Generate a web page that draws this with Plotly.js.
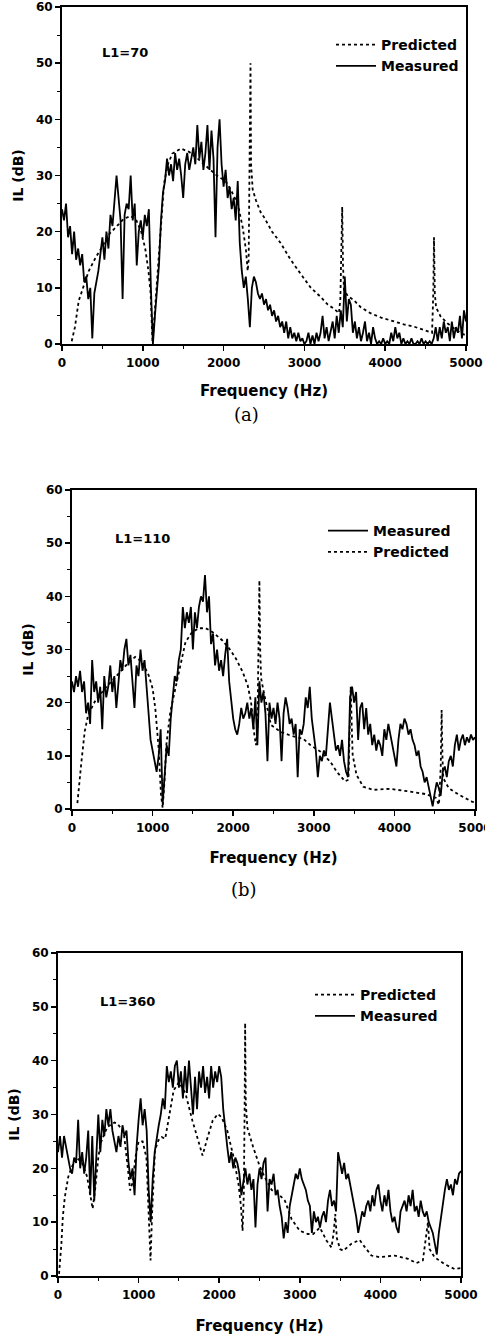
<!DOCTYPE html>
<html>
<head>
<meta charset="utf-8">
<script src="https://cdn.plot.ly/plotly-3.0.1.min.js"></script>
<style>html,body{margin:0;padding:0;background:#fff;}#chart{width:485px;height:1335px;}</style>
</head>
<body>
<div id="chart"></div>
<script>
// Shared frequency grid (Hz) for the measured curves
const freq = [
0,25,50,75,100,125,150,175,200,225,250,275,300,325,350,375,400,425,450,475,
500,525,550,575,600,625,650,675,700,725,750,775,800,825,850,875,900,925,950,975,
1000,1025,1050,1075,1100,1125,1150,1175,1200,1225,1250,1275,1300,1325,1350,1375,1400,1425,1450,1475,
1500,1525,1550,1575,1600,1625,1650,1675,1700,1725,1750,1775,1800,1825,1850,1875,1900,1925,1950,1975,
2000,2025,2050,2075,2100,2125,2150,2175,2200,2225,2250,2275,2300,2325,2350,2375,2400,2425,2450,2475,
2500,2525,2550,2575,2600,2625,2650,2675,2700,2725,2750,2775,2800,2825,2850,2875,2900,2925,2950,2975,
3000,3025,3050,3075,3100,3125,3150,3175,3200,3225,3250,3275,3300,3325,3350,3375,3400,3425,3450,3475,
3500,3525,3550,3575,3600,3625,3650,3675,3700,3725,3750,3775,3800,3825,3850,3875,3900,3925,3950,3975,
4000,4025,4050,4075,4100,4125,4150,4175,4200,4225,4250,4275,4300,4325,4350,4375,4400,4425,4450,4475,
4500,4525,4550,4575,4600,4625,4650,4675,4700,4725,4750,4775,4800,4825,4850,4875,4900,4925,4950,4975,
5000];

// (a) L1=70
const measuredA = [
24,22,25,19,21,16,20,15,17,14,16,11,12,8,10,1,9,11,13,16,
19,15,20,17,23,21,25,30,26,22,8,23,25,24,30,22,25,14,20,22,
19,23,21,24,10,0,5,9,14,22,27,29,33,30,32,29,34,31,33,30,
26,32,34,31,33,35,32,39,33,36,31,34,39,31,38,33,19,35,40,32,
28,31,26,28,24,26,22,29,18,13,10,12,8,3,10,12,11,9,8,9,
7,8,6,7,5,6,4,5,3,4,2,4,1,3,1,2,0.5,2,0.5,1,
0,0.5,2,0,1.5,0,2,0.5,2,5,1,3,0.5,2,4,1,5,2,6,3,
12,4,8,7,2,4,1,3,0.5,2,4,0.5,2,0,3,1,0,0.5,0,1,
0,0.5,0,2,0.5,3,1,2,0,1,0,0.5,0,1,0,0,0.5,0,1,0,
0.5,0,0.5,0,1,3,0.5,3,1,4,2,3,0.5,4,1,3,2,5,1,6,
4];
const predAf = [120,160,207,260,331,420,497,580,662,766,850,920,980,1030,1070,1097,1110,1120,1135,1160,1190,1221,1263,1310,1366,1470,1573,1680,1800,1900,2029,2091,2174,2236,2277,2298,2310,2322,2333,2340,2360,2400,2457,2504,2600,2705,2830,2953,3080,3200,3290,3365,3427,3445,3460,3468,3478,3490,3540,3612,3700,3817,3950,4107,4230,4355,4460,4541,4580,4595,4604,4614,4630,4686,4769,4850,4930,5000];
const predAv = [0.5,3,7.7,10,13,15.5,17.3,19.5,20.8,22.3,22.8,22,20,17,13,9,4,0.5,3,8,14,20.8,28.6,32,33.9,34.8,34.2,33,31.5,30.2,28.9,27.4,25,20.8,16.7,13,15,30,50,32,27.5,25.6,23.5,22.5,20,18,15,12.5,10,8.4,7,6.3,5.5,8,20,24.4,14,9.6,8.5,7.8,6.5,5.5,4.7,4.0,3.5,3.1,2.6,2.2,2,9,19,9,6.5,4.9,3.7,2.8,2,1.5];

// (b) L1=110
const measuredB = [
24,22,25,23,26,22,24,18,20,16,28,22,24,20,23,15,25,21,23,27,
22,25,19,24,28,26,30,32,27,29,24,19,27,25,30,26,28,22,18,13,
11,9,7,10,15,1,6,12,10,17,21,25,24,28,30,38,34,37,35,38,
30,37,34,38,40,39,44,37,40,31,33,27,30,26,28,25,29,32,24,20,
17,15,14,16,19,17,18,20,17,19,15,21,12,24,20,22,18,9,20,17,
19,16,20,17,9,18,21,19,16,17,14,16,6,15,14,16,21,19,23,17,
14,11,6,10,9,11,10,16,20,17,14,11,12,10,13,9,7,6,21,23,
20,22,13,19,20,15,19,14,16,12,14,11,13,12,10,15,13,16,14,12,
10,8,13,16,15,17,16,14,15,13,12,10,11,8,7,5,6,4,2,0.5,
3,5,4,2.5,7,8,6,9,10,8,12,14,11,13,14,12,13.5,12.5,14,13,
13.5];
const predBf = [67,90,117,158,200,283,400,550,700,783,867,950,1000,1033,1075,1104,1125,1150,1170,1220,1283,1346,1408,1491,1575,1658,1742,1866,1950,2033,2117,2179,2221,2263,2283,2300,2315,2325,2335,2346,2387,2469,2591,2714,2870,2960,3082,3204,3286,3388,3430,3445,3458,3470,3482,3530,3613,3736,3940,4185,4390,4512,4553,4575,4586,4596,4606,4675,4798,4962,5000];
const predBv = [1.1,5,8.9,14.6,17.7,20.2,22.5,25,27.5,28.6,27.7,25.2,22.7,19,11.4,2.7,0.2,5.8,12,18.3,22.7,27.7,31.4,33.3,34,34,33.3,31.7,30.2,28.3,25.8,23.3,20.2,13.9,12,15,30,43,30,24.6,21.4,15.8,14.5,13.8,13.2,12,10.8,8.9,7,5.2,5.5,14,23,16,10.2,6.4,4.2,3.6,3.8,3.3,2.8,2.1,0.8,8,18.6,10,5.8,3.9,2.7,1.4,1.2];

// (c) L1=360
const measuredC = [
23,26,22,26,24,22,20,19,22,21,29,20,23,19,22,27,15,26,14,22,
30,23,29,26,31,28,31,27,25,23,26,24,28,26,27,21,18,20,15,24,
29,33,28,31,27,16,10,18,23,26,28,30,33,31,39,36,38,35,39,40,
35,38,33,39,34,40,35,30,37,31,38,35,39,34,37,33,39,35,38,36,
39,37,31,27,24,21,23,20,22,21,19,15,18,20,17,19,16,18,9,17,
20,18,21,22,12,18,17,19,15,16,13,11,7,10,8,13,15,17,19,18,
20,18,17,16,14,13,8,12,10,11,9,11,12,10,14,16,13,14,12,23,
21,19,21,18,19,17,15,13,11,8,10,12,11,13,14,12,15,13,16,17,
14,12,15,13,16,12,10,11,9,8,12,13,14,12,15,13,16,12,13,11,
14,12,11,12,10,9,8,6,4,8,11,13,16,18,16,17,15,18,17,19,
19.5];
const predCf = [13,30,42,60,84,127,169,230,300,360,400,430,460,500,527,612,700,738,800,823,865,895,928,960,1000,1050,1097,1127,1148,1169,1203,1245,1287,1330,1393,1435,1500,1580,1667,1751,1793,1857,1920,1983,2030,2100,2180,2240,2270,2290,2305,2315,2322,2330,2350,2420,2500,2560,2650,2750,2815,2900,3000,3100,3166,3249,3331,3393,3420,3440,3460,3500,3540,3640,3742,3800,3888,3990,4177,4342,4446,4527,4568,4590,4610,4672,4796,4920,5000];
const predCv = [0.4,3,6,11,14.6,18.4,20.2,22,21,18.5,15,12.5,16,22,24.6,27.7,28.5,28.3,27,25.8,20.2,15.9,17.5,22,25,25,22,12.2,2.9,12.2,23.3,25.2,25.8,25.5,30.8,34.5,36,34,28.9,24.6,22.4,25.8,28.9,30.1,29.5,27,22,17,13,8.4,15,30,47,32,27.5,24,20.5,18.5,16,15,14,10.5,8.4,7.8,7.8,9,6.6,5.3,8,11.5,7,5,4.7,6,6.7,5.5,3.8,3.5,3.8,3.2,2.4,2.9,7,10,5,3.5,2.2,1.3,1.5];

// Tick values and labels
const xTickVals = [0,1000,2000,3000,4000,5000];
const yTickVals = [0,10,20,30,40,50,60];
const panelLabels = ['(a)','(b)','(c)'];
const caseLabels = ['L1=70','L1=110','L1=360'];

const W = 485, H = 1335;
const px = v => v / W;
const py = v => 1 - v / H;
const bold = (size) => ({family:'DejaVu Sans', size:size, weight:'bold', color:'#000'});

function xAxis(l, r, anchor, standoff) {
  return {
    domain:[px(l), px(r)], anchor:anchor, range:[0,5000],
    tickvals:xTickVals, ticks:'outside', ticklen:5, tickwidth:1.5, tickcolor:'#000',
    minor:{ticks:'outside', dtick:500, ticklen:3, tickwidth:1, tickcolor:'#000'},
    showline:true, linewidth:2, linecolor:'#000', mirror:true,
    showgrid:false, zeroline:false, tickfont:bold(12), ticklabelstandoff:2,
    ticklabeloverflow:'allow',
    title:{text:'Frequency (Hz)', font:bold(15), standoff:standoff}
  };
}
function yAxis(b, t, anchor) {
  return {
    domain:[py(b), py(t)], anchor:anchor, range:[0,60],
    tickvals:yTickVals, ticks:'outside', ticklen:5, tickwidth:1.5, tickcolor:'#000',
    minor:{ticks:'outside', dtick:5, ticklen:3, tickwidth:1, tickcolor:'#000'},
    showline:true, linewidth:2, linecolor:'#000', mirror:true,
    showgrid:false, zeroline:false, tickfont:bold(12),
    ticklabeloverflow:'allow',
    title:{text:'IL (dB)', font:bold(14)}
  };
}

const measStyle = {color:'#000', width:1.8};
const predStyle = {color:'#000', width:1.8, dash:'dot'};

const traces = [
  {x:predAf, y:predAv, name:'Predicted', mode:'lines', line:predStyle, xaxis:'x', yaxis:'y', legend:'legend'},
  {x:freq, y:measuredA, name:'Measured', mode:'lines', line:measStyle, xaxis:'x', yaxis:'y', legend:'legend'},
  {x:freq, y:measuredB, name:'Measured', mode:'lines', line:measStyle, xaxis:'x2', yaxis:'y2', legend:'legend2'},
  {x:predBf, y:predBv, name:'Predicted', mode:'lines', line:predStyle, xaxis:'x2', yaxis:'y2', legend:'legend2'},
  {x:predCf, y:predCv, name:'Predicted', mode:'lines', line:predStyle, xaxis:'x3', yaxis:'y3', legend:'legend3'},
  {x:freq, y:measuredC, name:'Measured', mode:'lines', line:measStyle, xaxis:'x3', yaxis:'y3', legend:'legend3'}
];

function legendAt(x, y) {
  return {x:px(x), y:py(y), xanchor:'left', yanchor:'top', bgcolor:'rgba(0,0,0,0)',
    font:bold(14), traceorder:'normal', itemwidth:40, tracegroupgap:0};
}

const layout = {
  width:W, height:H, margin:{l:0, r:0, t:0, b:0},
  paper_bgcolor:'#fff', plot_bgcolor:'#fff', showlegend:true,
  xaxis: xAxis(62, 466, 'y', 16),
  yaxis: yAxis(344, 7, 'x'),
  xaxis2: xAxis(72, 475, 'y2', 18),
  yaxis2: yAxis(809, 490, 'x2'),
  xaxis3: xAxis(58, 461, 'y3', 20),
  yaxis3: yAxis(1276, 953, 'x3'),
  legend: legendAt(331, 29),
  legend2: legendAt(323, 515),
  legend3: legendAt(310, 979),
  annotations: [
    {text:caseLabels[0], x:px(100), y:py(52), xref:'paper', yref:'paper', xanchor:'left', yanchor:'middle', showarrow:false, font:bold(13)},
    {text:caseLabels[1], x:px(113), y:py(538), xref:'paper', yref:'paper', xanchor:'left', yanchor:'middle', showarrow:false, font:bold(13)},
    {text:caseLabels[2], x:px(98), y:py(1001), xref:'paper', yref:'paper', xanchor:'left', yanchor:'middle', showarrow:false, font:bold(13)},
    {text:panelLabels[0], x:px(246), y:py(414), xref:'paper', yref:'paper', xanchor:'center', yanchor:'middle', showarrow:false, font:{family:'DejaVu Serif', size:18, color:'#000'}},
    {text:panelLabels[1], x:px(244), y:py(889), xref:'paper', yref:'paper', xanchor:'center', yanchor:'middle', showarrow:false, font:{family:'DejaVu Serif', size:18, color:'#000'}}
  ]
};

Plotly.newPlot('chart', traces, layout, {staticPlot:true, displayModeBar:false});
</script>
</body>
</html>
